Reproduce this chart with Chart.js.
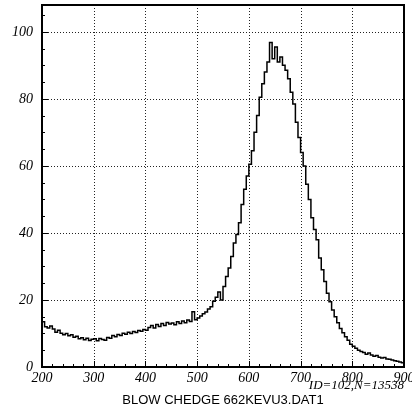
<!DOCTYPE html>
<html>
<head>
<meta charset="utf-8">
<script src="https://cdn.jsdelivr.net/npm/chart.js@4.4.1/dist/chart.umd.min.js"></script>
<style>
  html, body { margin: 0; padding: 0; background: #fff; }
  canvas { display: block; }
</style>
</head>
<body>
<canvas id="spectrum" width="412" height="413"></canvas>
<script>
(() => {

    // histogram bins: 5 channels wide, starting at 200
    const binStart = 200;
    const binWidth = 5;
    const counts = [
        13.5, 12.0, 11.6, 12.2, 11.3, 10.4, 11.0, 10.1, 9.6, 10.0,
        9.3, 9.6, 8.9, 9.2, 8.4, 8.7, 8.1, 8.6, 7.9, 8.3,
        8.4, 7.8, 8.5, 8.2, 8.0, 8.8, 8.6, 9.4, 9.0, 9.7,
        9.4, 10.1, 9.8, 10.4, 10.0, 10.6, 10.3, 10.9, 10.7, 11.2,
        11.0, 11.8, 12.4, 11.6, 12.7, 12.1, 13.0, 12.4, 13.3, 12.8,
        13.1, 12.6, 13.5, 13.0, 13.7, 13.2, 14.0, 13.6, 16.5, 14.1,
        14.6, 15.2, 15.9, 16.4, 17.3, 18.0, 19.6, 20.8, 22.4, 20.0,
        24.0, 27.0, 29.5, 33.0, 37.0, 39.5, 43.0, 48.5, 53.0, 57.0,
        60.5, 64.5, 70.0, 75.0, 80.5, 84.5, 88.0, 91.0, 96.8, 92.0,
        95.5, 91.0, 92.5, 90.0, 88.5, 86.0, 82.0, 78.5, 73.0, 68.5,
        64.0, 60.0, 54.5, 50.0, 44.5, 41.0, 38.0, 32.5, 29.0, 25.5,
        22.0, 19.5, 17.0, 15.0, 13.2, 11.5, 10.2, 9.0, 8.0, 6.8,
        6.2, 5.6, 5.0, 4.6, 4.3, 3.8, 4.2, 3.6, 3.2, 3.4,
        2.9, 2.7, 2.8, 2.4, 2.3, 2.1, 1.9, 1.7, 1.5, 1.3
    ];

    const xTicks = [200, 300, 400, 500, 600, 700, 800, 900];
    const yTicks = [0, 20, 40, 60, 80, 100];
    const xMinorStep = 20;
    const yMinorStep = 5;

    const histTitle = 'BLOW CHEDGE 662KEVU3.DAT1';
    const statsText = 'ID=102,N=13538';

    // step points at the low edge of each bin, plus the closing edge
    const points = counts.map((c, i) => ({ x: binStart + i * binWidth, y: c }));
    points.push({ x: binStart + counts.length * binWidth, y: counts[counts.length - 1] });

    const serifItalic = { family: '"Liberation Serif", serif', style: 'italic', size: 14 };

    const framePlugin = {
        id: 'frame',
        beforeDatasetsDraw(chart) {
            const { ctx, chartArea: a, scales: { x, y } } = chart;
            ctx.save();
            ctx.strokeStyle = '#222';
            ctx.lineWidth = 1;
            ctx.setLineDash([1, 2]);
            xTicks.slice(1, -1).forEach(v => {
                const px = Math.round(x.getPixelForValue(v)) + 0.5;
                ctx.beginPath(); ctx.moveTo(px, a.top); ctx.lineTo(px, a.bottom); ctx.stroke();
            });
            yTicks.slice(1).forEach(v => {
                const py = Math.round(y.getPixelForValue(v)) + 0.5;
                ctx.beginPath(); ctx.moveTo(a.left, py); ctx.lineTo(a.right, py); ctx.stroke();
            });
            ctx.restore();
        },
        afterDatasetsDraw(chart) {
            const { ctx, chartArea: a, scales: { x, y } } = chart;
            ctx.save();
            ctx.strokeStyle = '#000';
            ctx.lineWidth = 1;
            ctx.beginPath();
            for (let v = x.min; v <= x.max; v += xMinorStep) {
                const px = Math.round(x.getPixelForValue(v)) + 0.5;
                const len = (v % 100 === 0) ? 6 : 3;
                ctx.moveTo(px, a.bottom); ctx.lineTo(px, a.bottom - len);
            }
            for (let v = 0; v <= y.max; v += yMinorStep) {
                const py = Math.round(y.getPixelForValue(v)) + 0.5;
                const len = (v % 20 === 0) ? 6 : 3;
                ctx.moveTo(a.left, py); ctx.lineTo(a.left + len, py);
            }
            ctx.stroke();
            // box round the plot
            ctx.lineWidth = 2;
            ctx.strokeRect(a.left, a.top, a.right - a.left, a.bottom - a.top);
            ctx.restore();
        },
        afterDraw(chart) {
            const { ctx, chartArea: a } = chart;
            ctx.save();
            ctx.fillStyle = '#000';
            ctx.textBaseline = 'alphabetic';
            ctx.font = 'italic 13px "Liberation Serif", serif';
            ctx.textAlign = 'right';
            ctx.fillText(statsText, a.right, 389);
            ctx.font = '13px "Liberation Sans", Arial, sans-serif';
            ctx.textAlign = 'center';
            ctx.fillText(histTitle, (a.left + a.right) / 2, 404);
            ctx.restore();
        }
    };

    new Chart(document.getElementById('spectrum'), {
        type: 'line',
        data: {
            datasets: [{
                data: points,
                borderColor: '#000',
                borderWidth: 1.5,
                stepped: 'before',
                pointRadius: 0,
                fill: false
            }]
        },
        options: {
            responsive: false,
            animation: false,
            devicePixelRatio: 1,
            layout: { padding: { top: 5, right: 8, left: 0, bottom: 0 } },
            plugins: { legend: { display: false }, tooltip: { enabled: false } },
            scales: {
                x: {
                    type: 'linear',
                    min: 200,
                    max: 900,
                    grid: { display: false, drawTicks: false },
                    border: { display: false },
                    afterBuildTicks: s => { s.ticks = xTicks.map(v => ({ value: v })); },
                    afterFit: s => { s.height = 46; s.paddingLeft = 0; s.paddingRight = 0; },
                    ticks: { color: '#000', font: serifItalic, padding: 3, maxRotation: 0, autoSkip: false }
                },
                y: {
                    min: 0,
                    max: 108,
                    grid: { display: false, drawTicks: false },
                    border: { display: false },
                    afterBuildTicks: s => { s.ticks = yTicks.map(v => ({ value: v })); },
                    afterFit: s => { s.width = 42; s.paddingTop = 0; s.paddingBottom = 0; },
                    ticks: { color: '#000', font: serifItalic, padding: 9 }
                }
            }
        },
        plugins: [framePlugin]
    });
})();
</script>
</body>
</html>
